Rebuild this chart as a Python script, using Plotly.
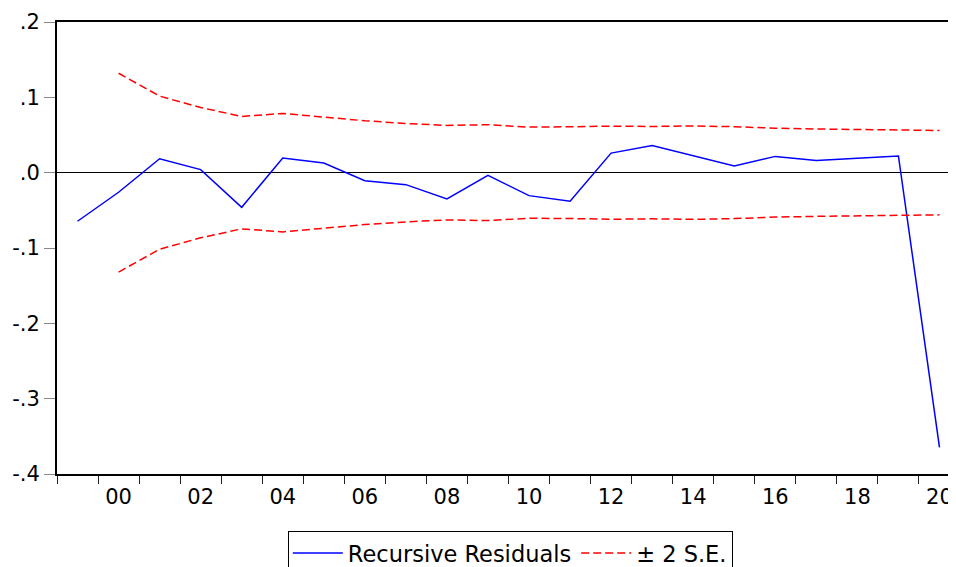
import plotly.graph_objects as go

years = list(range(1999, 2021))
residuals = [-0.0645, -0.026, 0.0185, 0.004, -0.046, 0.0195, 0.0128, -0.0106, -0.0159,
             -0.0349, -0.0036, -0.0305, -0.038, 0.026, 0.0362, 0.0225, 0.0088, 0.0216,
             0.0163, 0.019, 0.0221, -0.3647]
se_years = list(range(2000, 2021))
two_se = [0.132, 0.1016, 0.0865, 0.0746, 0.0786, 0.074, 0.0689, 0.0653, 0.0627, 0.0636,
          0.0605, 0.0609, 0.0618, 0.0613, 0.062, 0.061, 0.059, 0.058, 0.0574, 0.057, 0.056]
ytick_vals = [-0.4, -0.3, -0.2, -0.1, 0.0, 0.1, 0.2]
ytick_text = ["-.4", "-.3", "-.2", "-.1", ".0", ".1", ".2"]
xtick_vals = list(range(2000, 2021, 2))
xtick_text = ["00", "02", "04", "06", "08", "10", "12", "14", "16", "18", "20"]

fig = go.Figure()
fig.add_trace(go.Scatter(x=years, y=residuals, mode="lines", name="Recursive Residuals",
                         line=dict(color="#0000ff", width=1.5)))
fig.add_trace(go.Scatter(x=se_years, y=two_se, mode="lines", name="± 2 S.E.",
                         legendgroup="se", line=dict(color="#ff0000", width=1.5, dash="8px,4px")))
fig.add_trace(go.Scatter(x=se_years, y=[-v for v in two_se], mode="lines", name="± 2 S.E.",
                         legendgroup="se", showlegend=False,
                         line=dict(color="#ff0000", width=1.5, dash="8px,4px")))

# page body has an 8px margin: compensate so the plot frame sits at x=57..960, y=22..474
fig.update_layout(
    width=952, height=559,
    margin=dict(l=49, r=0, t=14, b=93, autoexpand=False),
    paper_bgcolor="white", plot_bgcolor="white",
    font=dict(family="DejaVu Sans, Liberation Sans, Arial, sans-serif", size=21, color="black"),
    showlegend=True,
    legend=dict(orientation="h", x=0.502, xanchor="center", y=-0.126, yanchor="top",
                bordercolor="black", borderwidth=1, font=dict(size=22.5),
                itemwidth=50, tracegroupgap=0),
    xaxis=dict(range=[1998.5, 2020.5], tickmode="array", tickvals=xtick_vals,
               ticktext=xtick_text, ticks="outside", ticklen=3,
               tickcolor="rgba(0,0,0,0)", showgrid=False, zeroline=False,
               showline=True, linecolor="black", linewidth=2, mirror=True,
               automargin=False,
               minor=dict(tickmode="linear", tick0=1998.5, dtick=1, ticks="outside",
                          ticklen=8, tickcolor="#222222", tickwidth=1, showgrid=False)),
    yaxis=dict(range=[-0.4, 0.2], tickmode="array", tickvals=ytick_vals, ticktext=ytick_text,
               ticks="outside", ticklen=11, tickcolor="#888888", tickwidth=1,
               automargin=False,
               showgrid=False, zeroline=True, zerolinecolor="black", zerolinewidth=1,
               showline=True, linecolor="black", linewidth=2, mirror=True),
)

fig.write_html("out.html")
